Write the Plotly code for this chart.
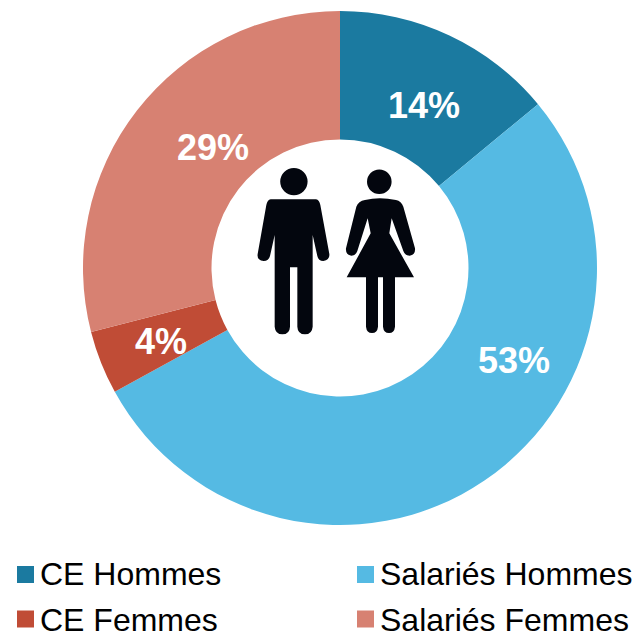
import plotly.graph_objects as go

categories = ["CE Hommes", "Salariés Hommes", "CE Femmes", "Salariés Femmes"]
values = [14, 53, 4, 29]
colors = ["#1B7AA0", "#55BAE3", "#C04C36", "#D78172"]
label_pos = [(424, 105), (514, 360), (161, 341), (213, 147)]
legend_pos = [(17, 574.5), (357, 574.5), (17, 619), (357, 619)]
legend_text_y = [573.5, 573.5, 619.5, 619.5]

W, H = 636, 633
px = lambda x: x / W
py = lambda y: 1 - y / H


def zpath(cmds):
    out = []
    for c in cmds:
        if c == "Z":
            out.append("Z")
            continue
        letter, pts = c[0], c[1:]
        coords = " ".join(f"{px(240 + x / 3):.5f},{py(150 + y / 3):.5f}" for x, y in pts)
        out.append(f"{letter} {coords}")
    return " ".join(out)


man = [
    ("M", (92, 148)), ("L", (228, 148)), ("Q", (238, 150), (241, 165)), ("L", (268, 312)),
    ("Q", (270, 330), (250, 333)), ("Q", (235, 333), (232, 318)), ("L", (218, 255)), ("L", (218, 530)),
    ("Q", (216, 553), (195, 553)), ("Q", (173, 553), (172, 530)), ("L", (172, 352)), ("L", (150, 352)),
    ("L", (150, 530)), ("Q", (149, 553), (127, 553)), ("Q", (106, 553), (104, 530)), ("L", (104, 255)),
    ("L", (90, 318)), ("Q", (86, 333), (71, 333)), ("Q", (50, 330), (53, 312)), ("L", (79, 165)),
    ("Q", (82, 150), (92, 148)), "Z",
]
woman = [
    ("M", (375, 150)), ("Q", (418, 140), (468, 150)), ("Q", (484, 153), (490, 170)), ("L", (525, 295)),
    ("Q", (527, 314), (509, 317)), ("Q", (495, 317), (490, 303)), ("L", (455, 205)), ("L", (448, 250)),
    ("L", (522, 382)), ("L", (465, 382)), ("L", (465, 530)), ("Q", (463, 549), (447, 549)),
    ("Q", (431, 549), (429, 530)), ("L", (429, 382)), ("L", (414, 382)), ("L", (414, 530)),
    ("Q", (412, 549), (396, 549)), ("Q", (380, 549), (378, 530)), ("L", (378, 382)), ("L", (320, 382)),
    ("L", (392, 250)), ("L", (383, 205)), ("L", (352, 303)), ("Q", (347, 317), (334, 317)),
    ("Q", (316, 314), (318, 295)), ("L", (349, 170)), ("Q", (355, 153), (375, 150)), "Z",
]

INK = "#03060E"
shapes = [
    dict(type="path", xref="paper", yref="paper", path=zpath(man), fillcolor=INK, line_width=0),
    dict(type="path", xref="paper", yref="paper", path=zpath(woman), fillcolor=INK, line_width=0),
    dict(type="circle", xref="paper", yref="paper", x0=px(280.2), x1=px(307.6), y0=py(195.2), y1=py(168),
         fillcolor=INK, line_width=0),
    dict(type="circle", xref="paper", yref="paper", x0=px(367), x1=px(391.6), y0=py(194), y1=py(169.5),
         fillcolor=INK, line_width=0),
]

annotations = []
for v, (x, y) in zip(values, label_pos):
    annotations.append(dict(x=px(x), y=py(y), xref="paper", yref="paper", text=f"<b>{v}%</b>", showarrow=False,
                            font=dict(family="Liberation Sans", size=36, color="white"),
                            xanchor="center", yanchor="middle"))
for name, col, (x, y), ty in zip(categories, colors, legend_pos, legend_text_y):
    shapes.append(dict(type="rect", xref="paper", yref="paper", x0=px(x), x1=px(x + 17), y0=py(y + 8.5), y1=py(y - 8.5),
                       fillcolor=col, line_width=0))
    annotations.append(dict(x=px(x + 22), y=py(ty), xref="paper", yref="paper", text=name, showarrow=False,
                            font=dict(family="Liberation Sans", size=32, color="black"),
                            height=26, borderpad=0, valign="middle",
                            xanchor="left", yanchor="middle"))

fig = go.Figure(go.Pie(
    labels=categories, values=values, hole=0.5, sort=False, direction="clockwise", rotation=0,
    marker=dict(colors=colors, line=dict(color="white", width=0)),
    textinfo="none", hoverinfo="label+percent",
    domain=dict(x=[px(83), px(597)], y=[py(525), py(11)]),
))
fig.update_layout(width=W, height=H, autosize=False, margin=dict(l=0, r=0, t=0, b=0), showlegend=False,
                  paper_bgcolor="white", shapes=shapes, annotations=annotations)
fig.write_html("out.html", config=dict(displayModeBar=False),
               post_script="document.body.style.margin='0';document.body.style.overflow='hidden';")
